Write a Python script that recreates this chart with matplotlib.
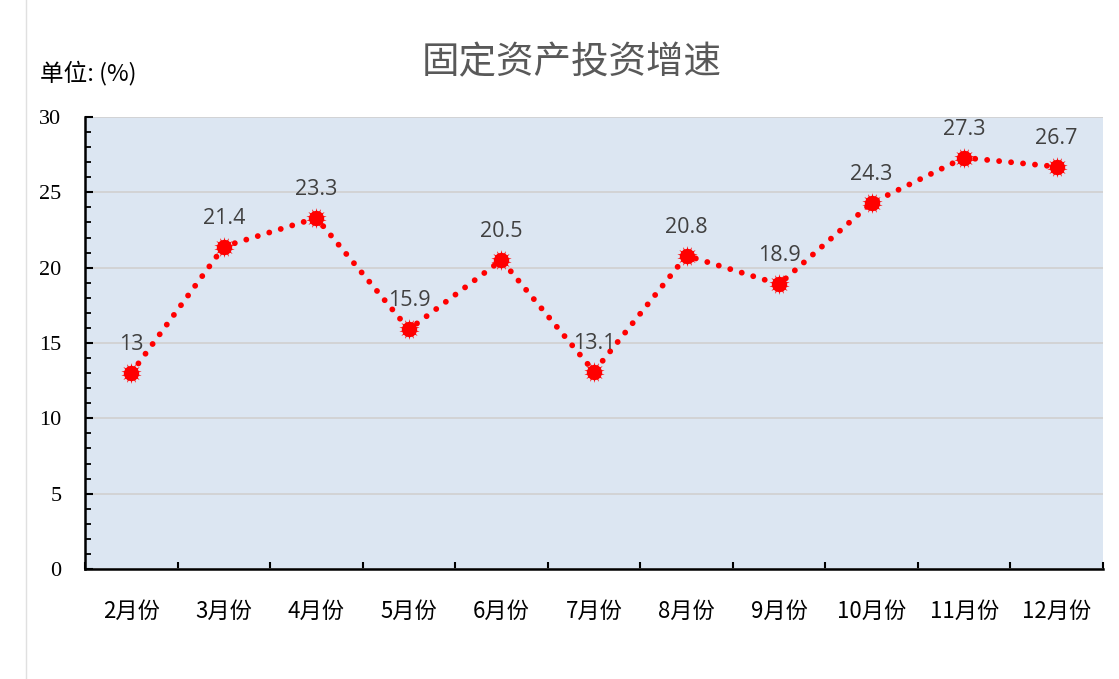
import matplotlib
matplotlib.use("Agg")
import matplotlib.pyplot as plt
from matplotlib.ticker import MultipleLocator, FixedLocator

months = ["2月份", "3月份", "4月份", "5月份", "6月份", "7月份", "8月份", "9月份", "10月份", "11月份", "12月份"]
growth = [13, 21.4, 23.3, 15.9, 20.5, 13.1, 20.8, 18.9, 24.3, 27.3, 26.7]
title = "固定资产投资增速"
unit_label = "单位: (%)"

plt.rcParams['font.family'] = ['Noto Sans CJK SC', 'DejaVu Sans']

fig = plt.figure(figsize=(11.19, 6.79), dpi=100)
ax = fig.add_axes([0.076, 0.162, 0.9097, 0.6657])
ax.set_facecolor('#dce6f2')

x = [i + 0.5 for i in range(len(months))]
ax.plot(x, growth, color='#ff0000', linewidth=4.2, linestyle=(0, (0.01, 2.05)),
        dash_capstyle='round', zorder=3)
ax.plot(x, growth, linestyle='none', marker='o', markersize=10, color='#ff0000', zorder=4)
ax.plot(x, growth, linestyle='none', marker=(14, 1, 0), markersize=15, color='#ff0000',
        markeredgewidth=0, zorder=4)

for xi, v in zip(x, growth):
    ax.annotate(f"{v:g}", (xi, v), xytext=(0, 13), textcoords='offset points',
                ha='center', va='bottom', fontsize=15.5, color='#404040',
                family=['Open Sans', 'DejaVu Sans'], zorder=5)

ax.set_xlim(0, len(months))
ax.set_ylim(0, 30)
ax.yaxis.set_major_locator(MultipleLocator(5))
ax.yaxis.set_minor_locator(MultipleLocator(1))
ax.grid(axis='y', which='major', color='#d0d0d0', linewidth=1.2, zorder=0)
ax.set_axisbelow(True)

ax.xaxis.set_major_locator(FixedLocator(range(0, len(months) + 1)))
ax.set_xticklabels([])
ax.xaxis.set_minor_locator(FixedLocator(x))
ax.set_xticklabels(months, minor=True)
ax.tick_params(axis='x', which='major', direction='in', length=5, width=1.5, color='black')
ax.tick_params(axis='x', which='minor', length=0, pad=22, labelsize=16, labelcolor='black')
ax.tick_params(axis='y', which='major', direction='in', length=6, width=1.5, pad=17,
               labelsize=16, labelcolor='black')
ax.tick_params(axis='y', which='minor', direction='in', length=4, width=1.3)
for lbl in ax.get_yticklabels():
    lbl.set_family(['Liberation Serif'])

for s in ['top', 'right']:
    ax.spines[s].set_visible(False)
for s in ['left', 'bottom']:
    ax.spines[s].set_linewidth(1.8)
    ax.spines[s].set_color('black')

fig.text(0.511, 0.908, title, ha='center', va='center', fontsize=27, color='#595959')
fig.text(0.036, 0.892, unit_label, ha='left', va='center', fontsize=17, color='black')

fig.add_artist(plt.Line2D([0.023, 0.023], [0.0, 1.0], color='#e0e0e0', linewidth=1))

fig.savefig('out.png', dpi=100)
